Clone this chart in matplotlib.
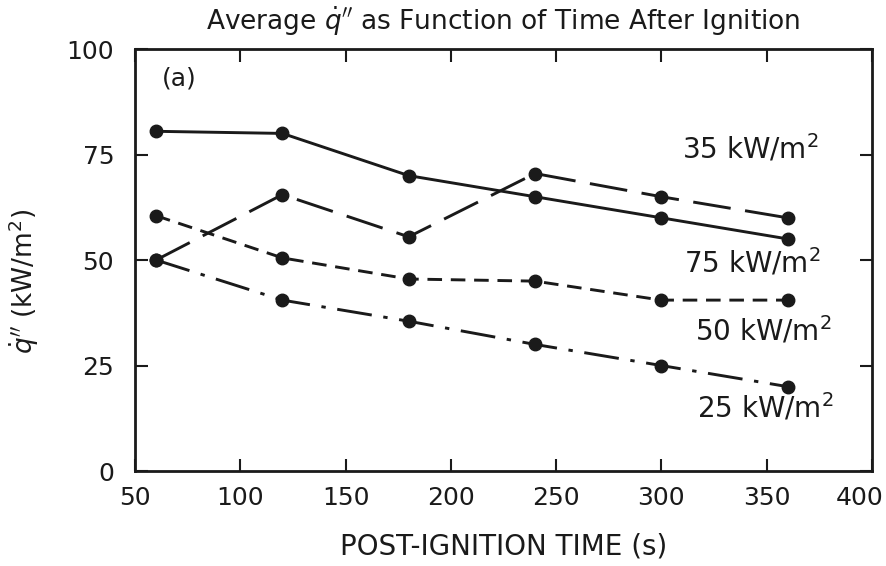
import matplotlib
matplotlib.use("Agg")
import matplotlib.pyplot as plt
from matplotlib.transforms import ScaledTranslation

plt.rcParams['font.family'] = ['DejaVu Sans']
plt.rcParams['mathtext.fontset'] = 'dejavusans'

time_s = [60, 120, 180, 240, 300, 360]
q75 = [80.5, 80, 70, 65, 60, 55]
q35 = [50, 65.5, 55.5, 70.5, 65, 60]
q50 = [60.5, 50.5, 45.5, 45, 40.5, 40.5]
q25 = [50, 40.5, 35.5, 30, 25, 20]
series_labels = ["35 kW/m$^2$", "75 kW/m$^2$", "50 kW/m$^2$", "25 kW/m$^2$"]
label_pos = [(310, 76.5), (311, 49.5), (316, 33.3), (317, 15.0)]
xticks = [50, 100, 150, 200, 250, 300, 350, 400]
yticks = [0, 25, 50, 75, 100]

fig = plt.figure(figsize=(8.86, 5.66), dpi=100)
ax = fig.add_axes([0.1524, 0.1678, 0.8316, 0.7456])

c = '#1a1a1a'
lw = 2.1
ms = 9
ax.plot(time_s, q75, color=c, lw=lw, ls='-', marker='o', ms=ms)
ax.plot(time_s, q35, color=c, lw=lw, ls=(0, (13, 5)), marker='o', ms=ms)
ax.plot(time_s, q50, color=c, lw=lw, ls=(0, (5, 3)), marker='o', ms=ms)
ax.plot(time_s, q25, color=c, lw=lw, ls=(0, (12, 4, 1.5, 4)), marker='o', ms=ms)

for lab, (lx, ly) in zip(series_labels, label_pos):
    ax.text(lx, ly, lab, fontsize=20, color=c, ha='left', va='center')

ax.text(0.037, 0.93, "(a)", transform=ax.transAxes, fontsize=18, color=c, ha='left', va='center')

ax.set_xlim(50, 400)
ax.set_ylim(0, 100)
ax.set_xticks(xticks)
ax.set_yticks(yticks)
ax.tick_params(direction='in', length=9, width=1.5, top=True, right=True,
               labelsize=18, colors=c)
ax.tick_params(axis='y', pad=15)
ax.tick_params(axis='x', pad=11)
last = ax.get_xticklabels()[-1]
last.set_horizontalalignment('right')
last.set_transform(last.get_transform() + ScaledTranslation(0.12, 0, fig.dpi_scale_trans))
for s in ax.spines.values():
    s.set_linewidth(2)
    s.set_color(c)

ax.set_xlabel("POST-IGNITION TIME (s)", fontsize=20, color=c, labelpad=16)
ax.set_ylabel(r"$\dot{q}''$ (kW/m$^2$)", fontsize=19, color=c)
ax.yaxis.set_label_coords(-0.128, 0.45)
ax.set_title(r"Average $\dot{q}''$ as Function of Time After Ignition", fontsize=19, color=c, pad=14)

fig.savefig("out.png", dpi=100)
